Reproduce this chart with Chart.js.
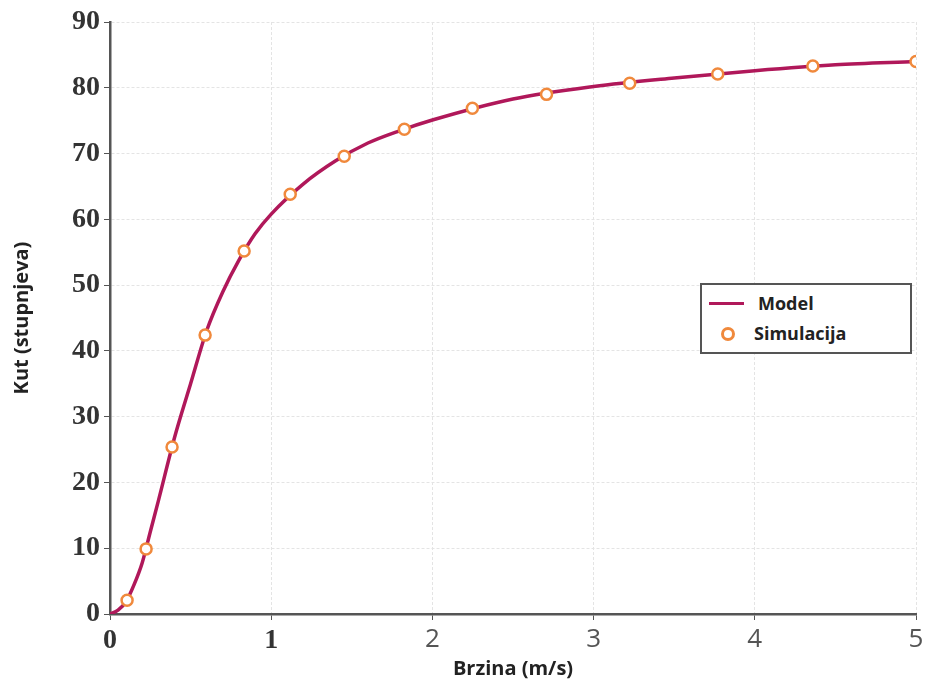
<!DOCTYPE html>
<html>
<head>
<meta charset="utf-8">
<script src="https://cdn.jsdelivr.net/npm/chart.js@4/dist/chart.umd.min.js"></script>
<style>
  html, body { margin: 0; padding: 0; background: #fff; }
  #wrap { position: relative; width: 925px; height: 690px; }
  #legend {
    position: absolute; left: 700px; top: 283px; width: 212px; height: 71px;
    border: 2px solid #555; background: #fff; box-sizing: border-box;
    font-family: "Open Sans", "Liberation Sans", sans-serif; font-weight: bold;
    font-size: 18px; color: #222;
  }
  .row { position: absolute; left: 0; height: 24px; line-height: 24px; }
  .row span { position: absolute; white-space: nowrap; }
</style>
</head>
<body>
<div id="wrap">
  <canvas id="angleChart" width="925" height="690"></canvas>
  <div id="legend">
    <div class="row" style="top:6px">
      <div style="position:absolute;left:7px;top:11px;width:35px;height:3px;background:#b0185a"></div>
      <span style="left:56px">Model</span>
    </div>
    <div class="row" style="top:36px">
      <div style="position:absolute;left:19px;top:6px;width:8px;height:8px;border:3px solid #f0893c;border-radius:50%;background:#fff"></div>
      <span style="left:52px">Simulacija</span>
    </div>
  </div>
</div>
<script>
// Kut vs brzina

// Model curve
const modelX = [0, 0.05, 0.1, 0.15, 0.2, 0.25, 0.3, 0.4, 0.5, 0.6, 0.7, 0.8, 0.9, 1.0, 1.2, 1.4, 1.6, 1.8, 2.0, 2.5, 3.0, 3.5, 4.0, 4.5, 5.0];
const modelY = [0, 0.6, 1.9, 4.5, 7.8, 12.5, 17.2, 26.8, 35.0, 43.1, 49.0, 53.8, 57.8, 60.8, 65.4, 68.9, 71.6, 73.5, 75.1, 78.3, 80.2, 81.5, 82.6, 83.5, 84.0];

// Simulation points
const simX = [0.106, 0.224, 0.385, 0.59, 0.832, 1.118, 1.453, 1.826, 2.248, 2.708, 3.224, 3.77, 4.36, 5.0];
const simY = [2.1, 9.9, 25.4, 42.4, 55.2, 63.8, 69.6, 73.7, 76.9, 79.0, 80.7, 82.1, 83.3, 84.0];

const xTicks = [0, 1, 2, 3, 4, 5];
const yTicks = [0, 10, 20, 30, 40, 50, 60, 70, 80, 90];

const toPoints = (xs, ys) => xs.map((x, i) => ({ x: x, y: ys[i] }));

const ctx = document.getElementById('angleChart');
new Chart(ctx, {
  type: 'line',
  data: {
    datasets: [{
      label: 'Simulacija',
      data: toPoints(simX, simY),
      showLine: false,
      pointRadius: 5.5,
      pointBorderWidth: 2.5,
      pointBorderColor: '#f0893c',
      pointBackgroundColor: '#ffffff',
      order: 0
    }, {
      label: 'Model',
      data: toPoints(modelX, modelY),
      borderColor: '#b0185a',
      borderWidth: 3.5,
      pointRadius: 0,
      cubicInterpolationMode: 'monotone',
      fill: false,
      order: 1
    }]
  },
  options: {
    responsive: false,
    animation: false,
    layout: { padding: { top: 22, right: 9, left: 0, bottom: 0 } },
    plugins: {
      legend: { display: false },
      tooltip: { enabled: false }
    },
    scales: {
      x: {
        type: 'linear',
        min: 0,
        max: 5,
        afterBuildTicks: (scale) => { scale.ticks = xTicks.map(v => ({ value: v })); },
        afterFit: (scale) => {
          scale.height = 76;
          scale.paddingRight = 0;
        },
        ticks: {
          padding: 4,
          color: (c) => c.tick && c.tick.value < 2 ? '#333' : '#555',
          font: (c) => (c.tick && c.tick.value < 2)
            ? { family: 'Liberation Serif', size: 28, weight: 'bold' }
            : { family: 'Open Sans', size: 26 }
        },
        grid: { color: '#e4e4e4', tickColor: '#555', tickLength: 6, lineWidth: 1 },
        border: { color: '#555', width: 2.5, dash: [3, 2] },
        title: {
          display: true,
          text: 'Brzina (m/s)',
          color: '#222',
          font: { family: 'Open Sans', size: 20, weight: 'bold' },
          padding: { top: 0, bottom: 9 }
        }
      },
      y: {
        min: 0,
        max: 90,
        afterBuildTicks: (scale) => { scale.ticks = yTicks.map(v => ({ value: v })); },
        afterFit: (scale) => { scale.width = 110; },
        ticks: {
          padding: 4,
          color: '#333',
          font: { family: 'Liberation Serif', size: 28, weight: 'bold' }
        },
        grid: { color: '#e4e4e4', tickColor: '#555', tickLength: 6, lineWidth: 1 },
        border: { color: '#555', width: 2.5, dash: [3, 2] },
        title: {
          display: true,
          text: 'Kut (stupnjeva)',
          color: '#222',
          font: { family: 'Open Sans', size: 20, weight: 'bold' },
          padding: { top: 10, bottom: 0 }
        }
      }
    }
  }
});
</script>
</body>
</html>
